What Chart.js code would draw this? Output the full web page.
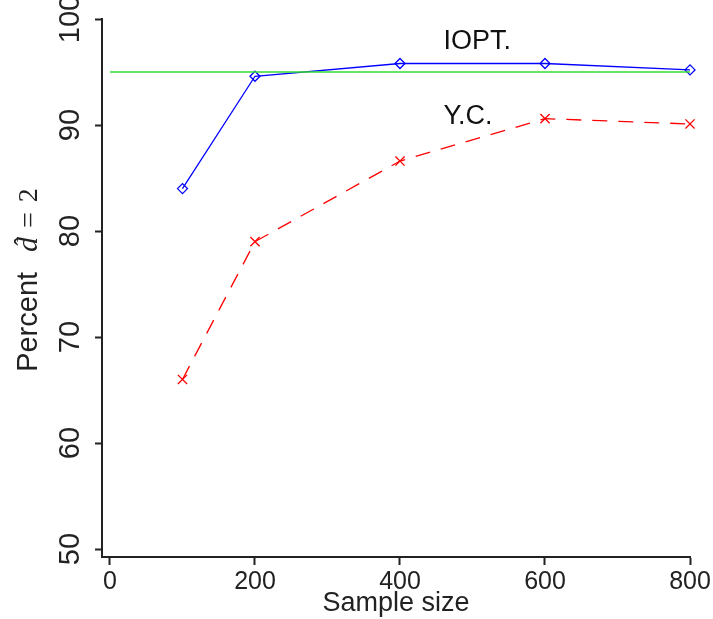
<!DOCTYPE html>
<html>
<head>
<meta charset="utf-8">
<script src="https://cdn.jsdelivr.net/npm/chart.js@4.4.1/dist/chart.umd.min.js"></script>
<style>
  html, body { margin: 0; padding: 0; background: #fff; }
  #wrap { width: 713px; height: 619px; }
</style>
</head>
<body>
<div id="wrap"><canvas id="chart"></canvas></div>
<script>
const sampleSizes = [100, 200, 400, 600, 800];
const ioptValues = [84.0, 94.6, 95.8, 95.8, 95.2];
const ycValues = [66.0, 79.0, 86.6, 90.6, 90.1];
const targetLine = 95;
const xTicks = [0, 200, 400, 600, 800];
const yTicks = [50, 60, 70, 80, 90, 100];
const seriesLabels = [
  { text: "IOPT.", x: 460, y: 97.9 },
  { text: "Y.C.", x: 460, y: 90.8 }
];

const axisColor = "#222";

function toPoints(xs, ys) {
  return xs.map((x, i) => ({ x: x, y: ys[i] }));
}

// text labels next to the curves
const labelPlugin = {
  id: "seriesLabels",
  afterDatasetsDraw(chart) {
    const ctx = chart.ctx;
    const xs = chart.scales.x;
    const ys = chart.scales.y;
    ctx.save();
    ctx.font = "27px 'Liberation Sans'";
    ctx.fillStyle = "#111";
    ctx.textAlign = "left";
    ctx.textBaseline = "middle";
    seriesLabels.forEach((l) => {
      ctx.fillText(l.text, xs.getPixelForValue(l.x), ys.getPixelForValue(l.y));
    });
    ctx.restore();
  }
};

// y axis title with a math part: Percent \hat{d} = 2
const yTitlePlugin = {
  id: "yTitle",
  afterDraw(chart) {
    const ctx = chart.ctx;
    const area = chart.chartArea;
    const parts = [
      { text: "Percent", font: "29px 'Liberation Sans Narrow', 'Liberation Sans'", gap: 20 },
      { text: "d", font: "italic 30px 'Liberation Serif'", gap: 9, hat: true },
      { text: "=", font: "28px 'Liberation Serif'", gap: 10 },
      { text: "2", font: "28px 'Liberation Serif'", gap: 0 }
    ];
    ctx.save();
    let total = 0;
    parts.forEach((p) => {
      ctx.font = p.font;
      p.w = ctx.measureText(p.text).width;
      total += p.w + p.gap;
    });
    const cy = (area.top + area.bottom) / 2 - 14;
    ctx.translate(37, cy);
    ctx.rotate(-Math.PI / 2);
    ctx.fillStyle = "#222";
    ctx.textBaseline = "alphabetic";
    ctx.textAlign = "left";
    let pos = -total / 2 - 6;
    parts.forEach((p) => {
      ctx.font = p.font;
      ctx.fillText(p.text, pos, 0);
      if (p.hat) {
        ctx.font = "26px 'Liberation Serif'";
        ctx.textAlign = "center";
        ctx.fillText("\u02C6", pos + p.w / 2 + 3, -5);
        ctx.textAlign = "left";
      }
      pos += p.w + p.gap;
    });
    ctx.restore();
  }
};

const ctx = document.getElementById("chart").getContext("2d");
const chart = new Chart(ctx, {
  type: "line",
  data: {
    datasets: [
      {
        label: "reference",
        data: [{ x: 0, y: targetLine }, { x: 800, y: targetLine }],
        borderColor: "#33dd33",
        borderWidth: 1.3,
        pointRadius: 0,
        fill: false
      },
      {
        label: "IOPT.",
        data: toPoints(sampleSizes, ioptValues),
        borderColor: "#0000ff",
        borderWidth: 1.3,
        pointStyle: "rectRot",
        pointRadius: 5,
        pointBorderWidth: 1.3,
        pointBackgroundColor: "rgba(0,0,0,0)",
        pointBorderColor: "#0000ff",
        fill: false,
        tension: 0,
        clip: false
      },
      {
        label: "Y.C.",
        data: toPoints(sampleSizes, ycValues),
        borderColor: "#ff0000",
        borderWidth: 1.3,
        borderDash: [15, 11],
        pointStyle: "crossRot",
        pointRadius: 6.5,
        pointBorderWidth: 1.3,
        pointBorderColor: "#ff0000",
        fill: false,
        tension: 0,
        clip: false
      }
    ]
  },
  options: {
    responsive: true,
    maintainAspectRatio: false,
    animation: false,
    layout: { padding: { left: 0, right: 23, top: 19, bottom: 0 } },
    plugins: {
      legend: { display: false },
      tooltip: { enabled: false }
    },
    scales: {
      x: {
        type: "linear",
        min: -11,
        max: 800,
        afterBuildTicks: (scale) => {
          scale.ticks = xTicks.map((v) => ({ value: v }));
        },
        afterFit: (scale) => { scale.height = 62; },
        grid: {
          drawOnChartArea: false,
          drawTicks: true,
          tickLength: 8,
          tickWidth: 2,
          tickColor: axisColor
        },
        border: { display: true, color: axisColor, width: 2 },
        ticks: {
          color: "#222",
          font: { family: "Liberation Sans", size: 25 },
          padding: 2,
          maxRotation: 0,
          autoSkip: false
        },
        title: {
          display: true,
          text: "Sample size",
          color: "#222",
          font: { family: "Liberation Sans", size: 27, lineHeight: 1.2 },
          padding: { top: 0, bottom: -1 }
        }
      },
      y: {
        min: 49.25,
        max: 100,
        afterBuildTicks: (scale) => {
          scale.ticks = yTicks.map((v) => ({ value: v }));
        },
        afterFit: (scale) => { scale.width = 102; },
        grid: {
          drawOnChartArea: false,
          drawTicks: true,
          tickLength: 7,
          tickWidth: 2,
          tickColor: axisColor
        },
        border: { display: true, color: axisColor, width: 2 },
        ticks: {
          color: "#222",
          font: { family: "'Liberation Sans Narrow', 'Liberation Sans'", size: 29 },
          minRotation: 90,
          maxRotation: 90,
          crossAlign: "center",
          padding: 0,
          autoSkip: false
        },
        title: { display: false }
      }
    }
  },
  plugins: [labelPlugin, yTitlePlugin]
});
</script>
</body>
</html>
